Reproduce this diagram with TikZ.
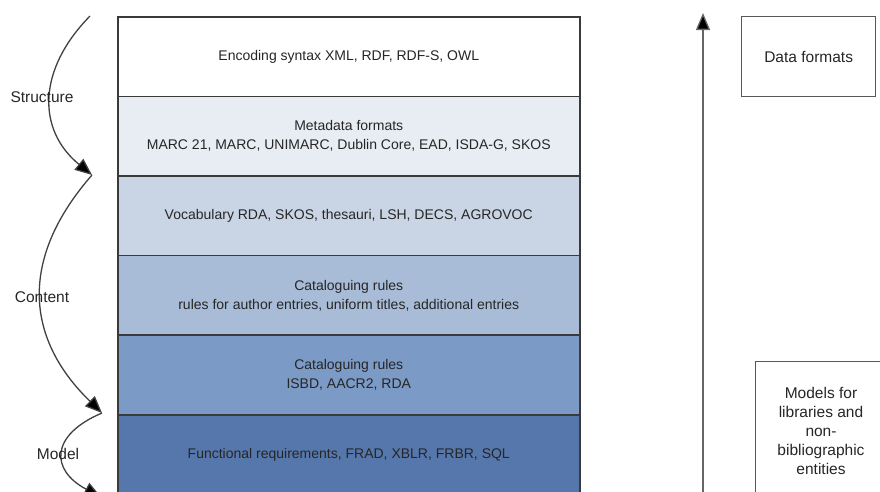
\documentclass[tikz,border=0pt]{standalone}
\usepackage{fontspec}
\setmainfont{Liberation Sans}
\usetikzlibrary{arrows.meta}
\definecolor{rowA}{HTML}{FFFFFF}
\definecolor{rowB}{HTML}{E8EDF3}
\definecolor{rowC}{HTML}{C9D5E5}
\definecolor{rowD}{HTML}{A8BCD7}
\definecolor{rowE}{HTML}{7B9AC5}
\definecolor{rowF}{HTML}{5677AB}
\definecolor{edge}{HTML}{3A3A3A}
\tikzset{
  layer/.style={draw=edge, line width=1.5pt, minimum width=462pt, minimum height=79.6pt,
    inner sep=0pt, anchor=north west, align=center, font=\fontsize{14}{19}\selectfont, text=black!85},
  sidebox/.style={draw=edge!85, line width=1.3pt, inner sep=0pt, anchor=north west, align=center,
    text=black!85},
  flow/.style={draw=black!75, line width=1.3pt, -{Triangle[length=17pt,width=14pt,fill=black]}},
  lbl/.style={font=\fontsize{15.5}{19}\selectfont, text=black!85}
}
\begin{document}
\begin{tikzpicture}[x=1pt,y=1pt]
\useasboundingbox (0,0) rectangle (880,-491);
\node[layer, fill=rowA] (r1) at (117,-16) {Encoding syntax XML, RDF, RDF-S, OWL};
\node[layer, fill=rowB] (r2) at (117,-95.6) {Metadata formats\\MARC 21, MARC, UNIMARC, Dublin Core, EAD, ISDA-G, SKOS};
\node[layer, fill=rowC] (r3) at (117,-175.2) {Vocabulary RDA, SKOS, thesauri, LSH, DECS, AGROVOC};
\node[layer, fill=rowD] (r4) at (117,-254.8) {Cataloguing rules\\rules for author entries, uniform titles, additional entries};
\node[layer, fill=rowE] (r5) at (117,-334.4) {Cataloguing rules\\ISBD, AACR2, RDA};
\node[layer, fill=rowF] (r6) at (117,-414) {Functional requirements, FRAD, XBLR, FRBR, SQL};

\node[sidebox, minimum width=134pt, minimum height=80pt, font=\fontsize{15.5}{19}\selectfont] (df) at (741,-16) {Data formats};
\node[sidebox, minimum width=126pt, minimum height=140pt] (mo) at (755,-361) {};
\node[lbl, align=center, font=\fontsize{15.5}{19}\selectfont] (mot) at (821,-431) {Models for\\libraries and\\non-\\bibliographic\\entities};

\coordinate (vb) at (703,-495);
\coordinate (vt) at (703,-13);
\draw[flow, draw=black!60] (vb) -- (vt);

\coordinate (s0) at (90,-16);
\coordinate (s1) at (92,-175);
\coordinate (s2) at (102,-413);
\coordinate (s3) at (101,-497);
\draw[flow] (s0) .. controls (37,-70) and (37,-130) .. (s1);
\draw[flow] (s1) .. controls (22,-255) and (22,-335) .. (s2);
\draw[flow] (s2) .. controls (50,-435) and (50,-470) .. (s3);

\node[lbl] (ls) at (42,-97) {Structure};
\node[lbl] (lc) at (42,-297) {Content};
\node[lbl] (lm) at (58,-454) {Model};
\end{tikzpicture}
\end{document}
